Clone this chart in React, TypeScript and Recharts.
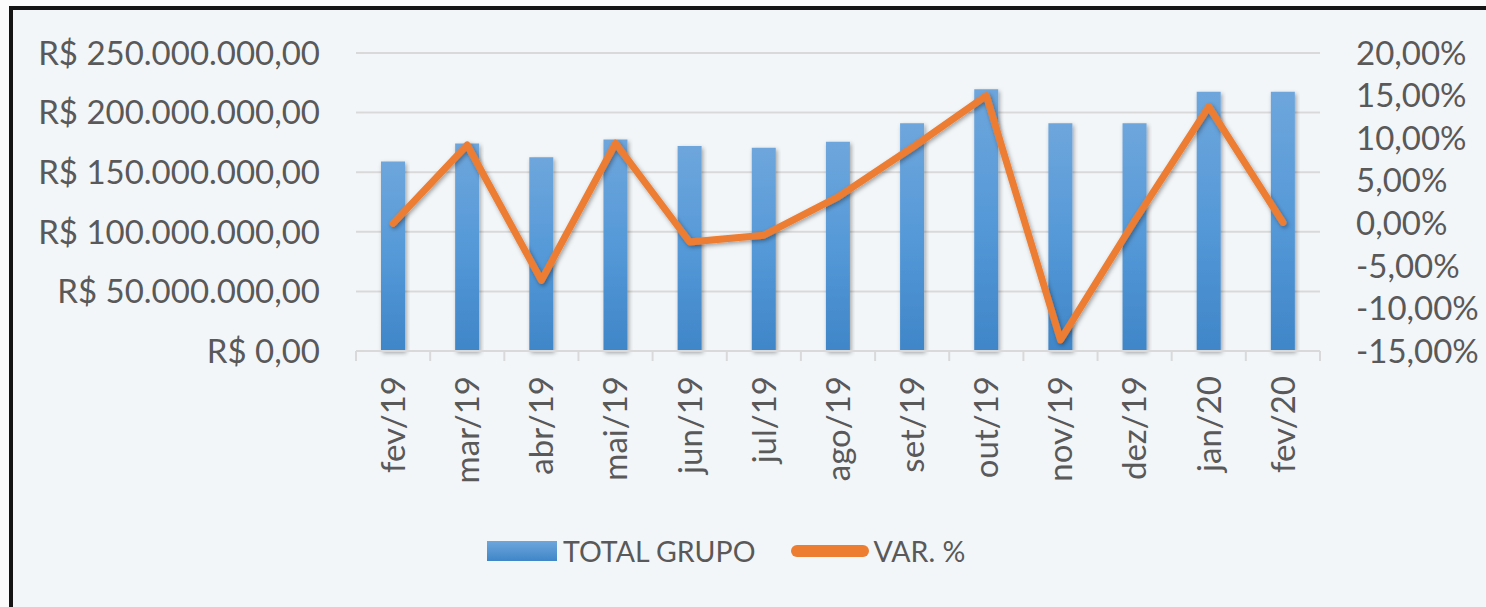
import React from 'react';
import {
    ComposedChart,
    Bar,
    Line,
    XAxis,
    YAxis,
    CartesianGrid,
    Legend,
} from 'recharts';

// months shown on the x axis
const months = [
    'fev/19', 'mar/19', 'abr/19', 'mai/19', 'jun/19', 'jul/19', 'ago/19',
    'set/19', 'out/19', 'nov/19', 'dez/19', 'jan/20', 'fev/20',
];

// TOTAL GRUPO (R$)
const totalGrupo = [
    159000000, 174000000, 162500000, 177500000, 172000000, 170500000, 175500000,
    191000000, 219500000, 191000000, 191000000, 217500000, 217500000,
];

// VAR. % month over month
const varPct = [0, 9.2, -6.7, 9.4, -2.2, -1.4, 3.1, 8.9, 15, -13.7, 0.3, 13.7, 0.1];

const leftTicks = [0, 50000000, 100000000, 150000000, 200000000, 250000000];
const rightTicks = [-15, -10, -5, 0, 5, 10, 15, 20];

const data = months.map((m, i) => ({
    month: m,
    total: totalGrupo[i],
    pct: varPct[i],
}));

const FONT = 'Lato, "Open Sans", sans-serif';
const TEXT = '#595959';
const ORANGE = '#ed7d31';

const formatBRL = (v: number) => {
    const s = Math.round(v).toString().replace(/\B(?=(\d{3})+(?!\d))/g, '.');
    return `R$ ${s},00`;
};

const formatPct = (v: number) => `${v.toFixed(2).replace('.', ',')}%`;

const MonthTick = (props: any) => {
    const { x, y, payload, index } = props;
    const half = payload && payload.offset ? payload.offset : 37;
    const last = index === months.length - 1;
    return (
        <g>
            <line x1={x - half} x2={x - half} y1={y} y2={y + 10} stroke="#d9d9d9" strokeWidth={2} />
            {last && (
                <line x1={x + half} x2={x + half} y1={y} y2={y + 10} stroke="#d9d9d9" strokeWidth={2} />
            )}
            <text
                x={x}
                y={y + 25}
                transform={`rotate(-90, ${x}, ${y + 25})`}
                textAnchor="end"
                dy="0.36em"
                fill={TEXT}
                fontSize={33}
                fontFamily={FONT}
            >
                {payload.value}
            </text>
        </g>
    );
};

const LegendContent = () => (
    <div style={{ display: 'flex', alignItems: 'center', height: 60, paddingLeft: 474, fontFamily: FONT, fontSize: 28.5, color: TEXT }}>
        <svg width={70} height={20} style={{ display: 'block' }}>
            <defs>
                <linearGradient id="legBar" x1="0" y1="0" x2="0" y2="1">
                    <stop offset="0%" stopColor="#6ea6dc" />
                    <stop offset="100%" stopColor="#3f86c8" />
                </linearGradient>
            </defs>
            <rect x={0} y={0} width={70} height={20} fill="url(#legBar)" />
        </svg>
        <span style={{ marginLeft: 6 }}>TOTAL GRUPO</span>
        <svg width={78} height={14} style={{ display: 'block', marginLeft: 36 }}>
            <line x1={6} x2={72} y1={7} y2={7} stroke={ORANGE} strokeWidth={12} strokeLinecap="round" />
        </svg>
        <span style={{ marginLeft: 4 }}>VAR. %</span>
    </div>
);

const App: React.FC = () => {
    return (
        <div
            style={{
                position: 'fixed',
                left: 0,
                top: 0,
                width: 1486,
                height: 607,
                background: '#fbfbfb',
            }}
        >
            <div
                style={{
                    position: 'absolute',
                    left: 9,
                    top: 6,
                    width: 1477,
                    height: 601,
                    borderLeft: '4px solid #141414',
                    borderTop: '4px solid #141414',
                    background: '#f3f6f9',
                }}
            >
                <ComposedChart
                    width={1473}
                    height={597}
                    data={data}
                    margin={{ top: 43, right: 0, left: 0, bottom: 26 }}
                    barCategoryGap={0}
                >
                    <defs>
                        <linearGradient id="barFill" x1="0" y1="0" x2="0" y2="1">
                            <stop offset="0%" stopColor="#6ea6dc" />
                            <stop offset="50%" stopColor="#5599d8" />
                            <stop offset="100%" stopColor="#3f86c8" />
                        </linearGradient>
                        <filter id="shadow" x="-20%" y="-20%" width="140%" height="140%">
                            <feDropShadow dx="1.5" dy="2" stdDeviation="2" floodColor="#000" floodOpacity="0.35" />
                        </filter>
                    </defs>
                    <CartesianGrid
                        yAxisId="left"
                        vertical={false}
                        stroke="#d9d9d9"
                        strokeWidth={2}
                    />
                    <XAxis
                        dataKey="month"
                        height={170}
                        interval={0}
                        tickLine={false}
                        tickSize={0}
                        tickMargin={0}
                        axisLine={{ stroke: '#d9d9d9', strokeWidth: 2 }}
                        tick={<MonthTick />}
                    />
                    <YAxis
                        yAxisId="left"
                        width={343}
                        domain={[0, 250000000]}
                        ticks={leftTicks}
                        tickFormatter={formatBRL}
                        axisLine={false}
                        tickLine={false}
                        tickSize={0}
                        tickMargin={36}
                        tick={{ fill: TEXT, fontSize: 33, fontFamily: FONT }}
                    />
                    <YAxis
                        yAxisId="right"
                        orientation="right"
                        width={166}
                        domain={[-15, 20]}
                        ticks={rightTicks}
                        tickFormatter={formatPct}
                        axisLine={false}
                        tickLine={false}
                        tickSize={0}
                        tickMargin={36}
                        tick={{ fill: TEXT, fontSize: 33, fontFamily: FONT, textAnchor: 'start' }}
                    />
                    <Legend
                        verticalAlign="bottom"
                        height={60}
                        content={<LegendContent />}
                    />
                    <Bar
                        yAxisId="left"
                        dataKey="total"
                        name="TOTAL GRUPO"
                        fill="url(#barFill)"
                        barSize={24}
                        filter="url(#shadow)"
                        isAnimationActive={false}
                    />
                    <Line
                        yAxisId="right"
                        type="linear"
                        dataKey="pct"
                        name="VAR. %"
                        stroke={ORANGE}
                        strokeWidth={7}
                        strokeLinecap="round"
                        strokeLinejoin="round"
                        dot={false}
                        activeDot={false}
                        filter="url(#shadow)"
                        isAnimationActive={false}
                    />
                </ComposedChart>
            </div>
        </div>
    );
};

export default App;
